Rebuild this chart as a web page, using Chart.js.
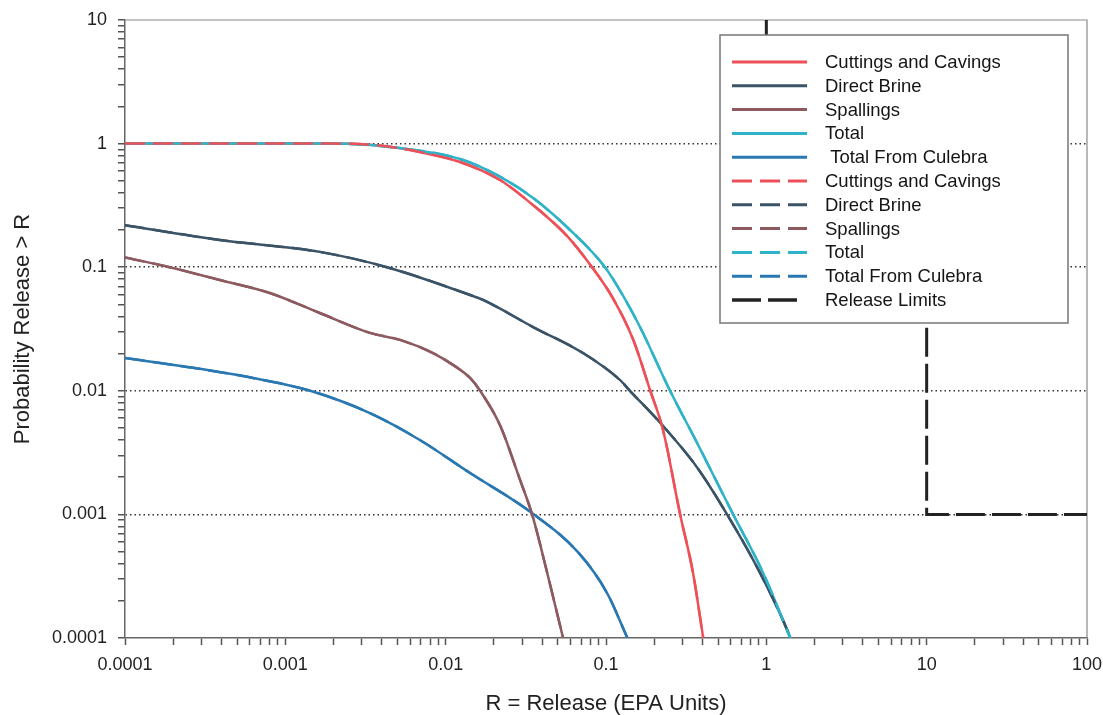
<!DOCTYPE html>
<html>
<head>
<meta charset="utf-8">
<script src="https://cdn.jsdelivr.net/npm/chart.js@4.4.0/dist/chart.umd.min.js"></script>
<style>
  body { margin: 0; background: #fff; }
  #wrap { width: 1103px; height: 715px; }
</style>
</head>
<body>
<div id="wrap"><canvas id="ccdf"></canvas></div>
<script>
// tick labels (decades)
const xTickLabels = ['0.0001', '0.001', '0.01', '0.1', '1', '10', '100'];
const yTickLabels = ['0.0001', '0.001', '0.01', '0.1', '1', '10'];

// series
const cuttingsX = [0.0001, 0.0019, 0.0035, 0.0052, 0.0069, 0.0123, 0.0218, 0.0351, 0.0571, 0.0818, 0.111, 0.148, 0.188, 0.227, 0.29, 0.349, 0.404];
const cuttingsY = [1, 1, 0.975, 0.916, 0.855, 0.71, 0.508, 0.318, 0.179, 0.1, 0.0555, 0.0258, 0.0102, 0.0048, 0.001, 0.000336, 0.0001];

const brineX = [0.0001, 0.00039, 0.00164, 0.0043, 0.0142, 0.0171, 0.0351, 0.0719, 0.1225, 0.141, 0.218, 0.37, 0.569, 0.914, 1.35, 1.41];
const brineY = [0.219, 0.166, 0.133, 0.1, 0.0596, 0.0543, 0.0328, 0.0202, 0.0122, 0.01, 0.0055, 0.0024, 0.001, 0.000336, 0.000116, 0.0001];

const spallX = [0.0001, 0.00019, 0.00039, 0.0008, 0.00164, 0.00337, 0.0052, 0.00834, 0.0111, 0.0142, 0.0164, 0.0218, 0.0291, 0.0346, 0.043, 0.054];
const spallY = [0.12, 0.1, 0.0787, 0.0618, 0.0426, 0.0294, 0.0258, 0.0202, 0.0162, 0.0127, 0.01, 0.00528, 0.0019, 0.001, 0.000336, 0.0001];

const totalX = [0.0001, 0.0019, 0.0052, 0.0123, 0.0218, 0.0351, 0.0597, 0.0986, 0.128, 0.163, 0.251, 0.37, 0.621, 0.955, 1.41];
const totalY = [1, 1, 0.92, 0.75, 0.54, 0.363, 0.2, 0.1, 0.0585, 0.0328, 0.01, 0.00379, 0.001, 0.000336, 0.0001];

const culebraX = [0.0001, 0.000244, 0.000628, 0.00143, 0.00337, 0.0069, 0.0142, 0.0337, 0.0675, 0.1016, 0.136];
const culebraY = [0.0184, 0.0156, 0.0127, 0.01, 0.0066, 0.004, 0.00216, 0.00105, 0.000488, 0.000231, 0.0001];

const limitX = [1, 1, 10, 10, 100];
const limitY = [10, 0.1, 0.1, 0.001, 0.001];

const pts = (xs, ys) => xs.map((x, i) => ({ x: x, y: ys[i] }));

const RED = '#ee5058', BRINE = '#3b5366', SPALL = '#8c5a5f', TOTAL = '#2fb3c9', CULEBRA = '#2a78b2';
const DASH = [20, 8];

function curve(label, xs, ys, color, dash, order) {
    return {
        label: label,
        data: pts(xs, ys),
        borderColor: color,
        borderWidth: 2.5,
        borderDash: dash,
        pointRadius: 0,
        fill: false,
        cubicInterpolationMode: 'monotone',
        order: order
    };
}

// lower order is drawn on top
const datasets = [
    curve('Cuttings and Cavings', cuttingsX, cuttingsY, RED, [], 11),
    curve('Direct Brine', brineX, brineY, BRINE, [], 10),
    curve('Spallings', spallX, spallY, SPALL, [], 9),
    curve('Total', totalX, totalY, TOTAL, [], 7),
    curve(' Total From Culebra', culebraX, culebraY, CULEBRA, [], 8),
    curve('Cuttings and Cavings', cuttingsX, cuttingsY, RED, DASH, 2),
    curve('Direct Brine', brineX, brineY, BRINE, DASH, 6),
    curve('Spallings', spallX, spallY, SPALL, DASH, 5),
    curve('Total', totalX, totalY, TOTAL, DASH, 3),
    curve('Total From Culebra', culebraX, culebraY, CULEBRA, DASH, 4),
    {
        label: 'Release Limits',
        data: pts(limitX, limitY),
        borderColor: '#222',
        borderWidth: 3,
        borderDash: [29, 7],
        pointRadius: 0,
        tension: 0,
        fill: false,
        order: 1
    }
];

function logTicks(labels) {
    const ticks = [];
    for (let i = 0; i < labels.length - 1; i++) {
        const d = Number(labels[i]);
        for (let k = 1; k <= 9; k++) ticks.push({ value: d * k });
    }
    ticks.push({ value: Number(labels[labels.length - 1]) });
    return ticks;
}

function labelFor(labels, v) {
    const s = labels.find(l => Math.abs(Number(l) - v) < v * 1e-6);
    return s || '';
}

const isInnerDecade = (labels, v) => {
    const i = labels.findIndex(l => Math.abs(Number(l) - v) < v * 1e-6);
    return i > 0 && i < labels.length - 1;
};

const frame = {
    id: 'frame',
    beforeDatasetsDraw(chart) {
        const a = chart.chartArea, c = chart.ctx;
        c.save();
        c.strokeStyle = '#8a8a8a';
        c.lineWidth = 1.2;
        c.beginPath();
        c.moveTo(a.left, a.top);
        c.lineTo(a.right, a.top);
        c.lineTo(a.right, a.bottom);
        c.stroke();
        c.restore();
    }
};

const boxLegend = {
    id: 'boxLegend',
    afterDatasetsDraw(chart) {
        const a = chart.chartArea, c = chart.ctx;
        const left = a.right - 367, top = a.top + 15, w = 348, h = 288;
        c.save();
        c.fillStyle = '#fff';
        c.fillRect(left, top, w, h);
        c.strokeStyle = '#777';
        c.lineWidth = 1.5;
        c.strokeRect(left, top, w, h);
        c.font = '18.5px "Liberation Sans", Arial, sans-serif';
        c.textBaseline = 'middle';
        c.fillStyle = '#151515';
        chart.data.datasets.forEach((ds, i) => {
            const y = top + 27 + i * 23.8;
            const len = ds.label === 'Release Limits' ? 65 : 75;
            c.save();
            c.strokeStyle = ds.borderColor;
            c.lineWidth = ds.borderWidth + 0.5;
            c.setLineDash(ds.borderDash || []);
            c.beginPath();
            c.moveTo(left + 12, y);
            c.lineTo(left + 12 + len, y);
            c.stroke();
            c.restore();
            c.fillText(ds.label, left + 105, y + 1);
        });
        c.restore();
    }
};

const tickFont = { family: '"Liberation Sans", Arial, sans-serif', size: 18 };
const titleFont = { family: '"Liberation Sans", Arial, sans-serif', size: 22, lineHeight: 1 };

new Chart(document.getElementById('ccdf'), {
    type: 'line',
    data: { datasets: datasets },
    options: {
        responsive: true,
        maintainAspectRatio: false,
        animation: false,
        layout: { padding: { left: 0, right: 16, top: 20, bottom: 0 } },
        plugins: { legend: { display: false }, tooltip: { enabled: false } },
        scales: {
            x: {
                type: 'logarithmic',
                min: 0.0001,
                max: 100,
                afterBuildTicks: s => { s.ticks = logTicks(xTickLabels); },
                afterFit: s => { s.height = 77; s.paddingLeft = 0; s.paddingRight = 0; },
                ticks: {
                    autoSkip: false,
                    maxRotation: 0,
                    padding: 9,
                    color: '#222',
                    font: tickFont,
                    callback: v => labelFor(xTickLabels, v)
                },
                grid: {
                    drawOnChartArea: false,
                    tickLength: 7,
                    tickColor: '#555',
                    tickWidth: 1.5
                },
                border: { color: '#666', width: 1.5 },
                title: {
                    display: true,
                    text: 'R = Release (EPA Units)',
                    color: '#222',
                    font: titleFont,
                    padding: { top: 0, bottom: 0 }
                }
            },
            y: {
                type: 'logarithmic',
                min: 0.0001,
                max: 10,
                afterBuildTicks: s => { s.ticks = logTicks(yTickLabels); },
                afterFit: s => { s.width = 125; s.paddingTop = 0; s.paddingBottom = 0; },
                ticks: {
                    autoSkip: false,
                    padding: 11,
                    color: '#222',
                    font: tickFont,
                    callback: v => labelFor(yTickLabels, v)
                },
                grid: {
                    color: ctx => (ctx.tick && isInnerDecade(yTickLabels, ctx.tick.value)) ? '#333' : 'rgba(0,0,0,0)',
                    lineWidth: 1.5,
                    tickLength: 7,
                    tickColor: '#555',
                    tickWidth: 1.5
                },
                border: { color: '#666', width: 1.5, dash: [1.5, 3] },
                title: {
                    display: true,
                    text: 'Probability Release > R',
                    color: '#222',
                    font: titleFont,
                    padding: { top: 12, bottom: 0 }
                }
            }
        }
    },
    plugins: [frame, boxLegend]
});
</script>
</body>
</html>
